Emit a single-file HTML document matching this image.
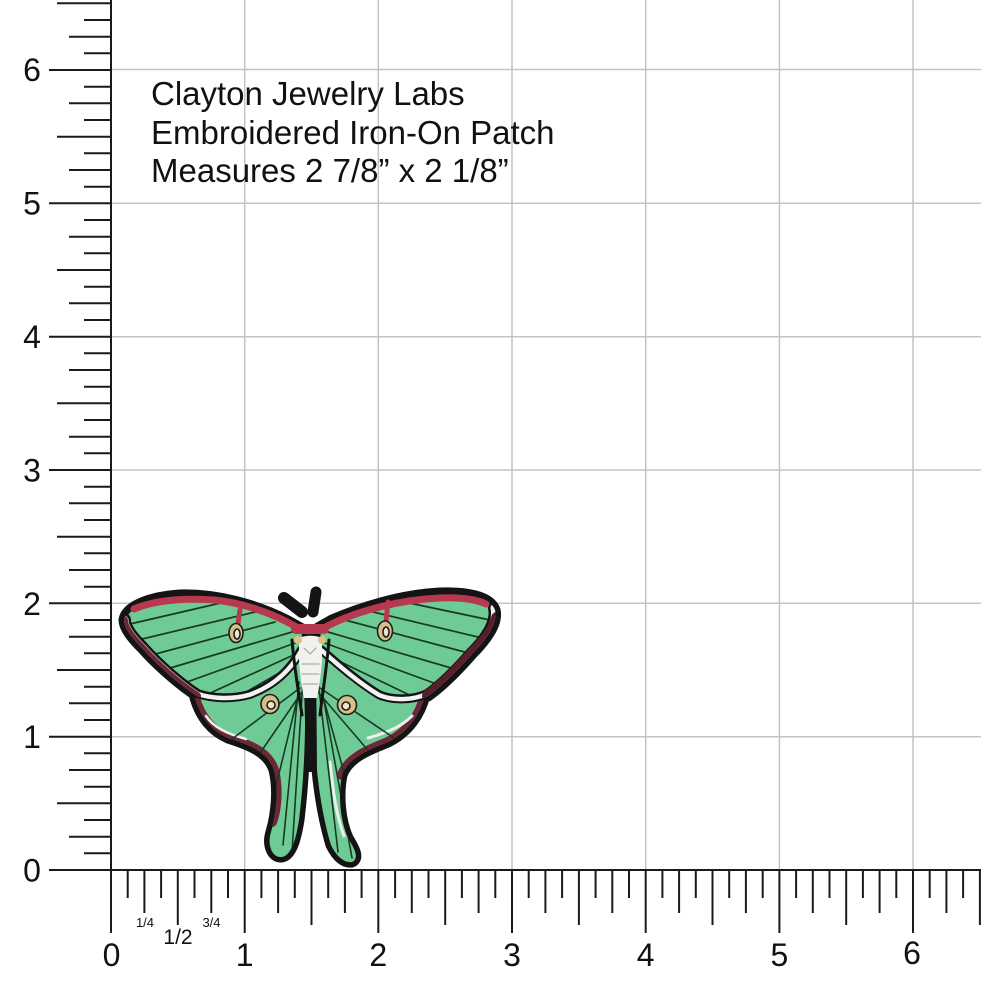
<!DOCTYPE html>
<html><head><meta charset="utf-8"><style>
html,body{margin:0;padding:0;background:#fff;}
svg{display:block;}
text{font-family:"Liberation Sans",Arial,sans-serif;fill:#111;}
</style></head><body>
<svg width="981" height="1000" viewBox="0 0 981 1000" xmlns="http://www.w3.org/2000/svg">
<defs>
<clipPath id="cFL"><path d="M124,620 C126,606 150,597 180,595 C215,594 255,604 288,621 L304,630 L303,652 C292,672 275,688 250,697 C232,702 212,701 197,696 C180,685 158,666 142,648 C132,638 124,628 124,620 Z"/></clipPath>
<clipPath id="cFR"><path d="M318,628 L332,620 C360,608 400,595 440,593 C465,592 490,596 495,610 C498,622 488,638 472,654 C458,670 442,686 428,696 C412,703 392,703 378,697 C355,683 335,665 320,652 Z"/></clipPath>
<clipPath id="cHL"><path d="M195,698 C200,715 210,730 228,738 C250,745 268,752 274,770 C279,790 276,815 271,832 C267,845 272,858 282,857 C292,855 296,838 299,820 C302,795 305,760 305,720 L303,655 C290,680 265,695 240,700 C220,702 205,700 195,698 Z"/></clipPath>
<clipPath id="cHR"><path d="M425,695 C420,715 408,732 388,742 C368,750 348,758 342,775 C338,795 340,820 348,838 C354,848 360,858 352,862 C343,863 336,855 331,845 C325,825 320,800 317,770 L316,650 C340,665 380,690 425,690 Z"/></clipPath>
</defs>

<!-- grid -->
<g stroke="#c4c4c4" stroke-width="1.5" fill="none">
<path d="M244.7,0V870M378.3,0V870M512,0V870M645.7,0V870M779.4,0V870M913,0V870"/>
<path d="M111,736.7H981M111,603.3H981M111,470H981M111,336.7H981M111,203.3H981M111,69.5H981"/>
</g>

<!-- rulers -->
<g stroke="#1a1a1a" stroke-width="2" fill="none">
<path d="M111,0V933M49,870H981"/>
<path d="M84,853.3H111M69,836.7H111M84,820H111M57,803.3H111M84,786.7H111M69,770H111M84,753.3H111M49,736.7H111M84,720H111M69,703.3H111M84,686.7H111M57,670H111M84,653.3H111M69,636.7H111M84,620H111M49,603.3H111M84,586.7H111M69,570H111M84,553.3H111M57,536.7H111M84,520H111M69,503.3H111M84,486.7H111M49,470H111M84,453.3H111M69,436.7H111M84,420H111M57,403.3H111M84,386.7H111M69,370H111M84,353.3H111M49,336.7H111M84,320H111M69,303.3H111M84,286.7H111M57,270H111M84,253.3H111M69,236.7H111M84,220H111M49,203.3H111M84,186.7H111M69,170H111M84,153.3H111M57,136.7H111M84,120H111M69,103.3H111M84,86.7H111M49,70H111M84,53.3H111M69,36.7H111M84,20H111M57,3.3H111"/>
<path d="M127.7,870V898M144.4,870V913M161.1,870V898M177.8,870V925M194.5,870V898M211.3,870V913M228,870V898M244.7,870V933M261.4,870V898M278.1,870V913M294.8,870V898M311.5,870V925M328.2,870V898M344.9,870V913M361.6,870V898M378.3,870V933M395.1,870V898M411.8,870V913M428.5,870V898M445.2,870V925M461.9,870V898M478.6,870V913M495.3,870V898M512,870V933M528.7,870V898M545.4,870V913M562.1,870V898M578.9,870V925M595.6,870V898M612.3,870V913M629,870V898M645.7,870V933M662.4,870V898M679.1,870V913M695.8,870V898M712.5,870V925M729.2,870V898M745.9,870V913M762.7,870V898M779.4,870V933M796.1,870V898M812.8,870V913M829.5,870V898M846.2,870V925M862.9,870V898M879.6,870V913M896.3,870V898M913,870V933M929.7,870V898M946.4,870V913M963.1,870V898M979.9,870V925"/>
</g>

<!-- ruler labels -->
<g font-size="32" text-anchor="middle">
<text x="32" y="881.5">0</text>
<text x="32" y="748">1</text>
<text x="32" y="615">2</text>
<text x="32" y="481.5">3</text>
<text x="32" y="348">4</text>
<text x="32" y="214.5">5</text>
<text x="32" y="81">6</text>
<text x="111.5" y="966">0</text>
<text x="244.7" y="966">1</text>
<text x="378.3" y="966">2</text>
<text x="512" y="966">3</text>
<text x="645.7" y="966">4</text>
<text x="779.4" y="966">5</text>
<text x="912" y="964">6</text>
</g>
<text x="145" y="927" font-size="13" text-anchor="middle">1/4</text>
<text x="178" y="944" font-size="21" text-anchor="middle">1/2</text>
<text x="211.5" y="927" font-size="13" text-anchor="middle">3/4</text>

<!-- title text -->
<g font-size="33">
<text x="151" y="105">Clayton Jewelry Labs</text>
<text x="151" y="144">Embroidered Iron-On Patch</text>
<text x="151" y="182">Measures 2 7/8” x 2 1/8”</text>
</g>

<!-- moth -->
<g stroke-linejoin="round" stroke-linecap="round">
<!-- black silhouette -->
<g fill="#141414" stroke="#141414" stroke-width="11">
<path d="M195,698 C200,715 210,730 228,738 C250,745 268,752 274,770 C279,790 276,815 271,832 C267,845 272,858 282,857 C292,855 296,838 299,820 C302,795 305,760 305,720 L303,655 C290,680 265,695 240,700 C220,702 205,700 195,698 Z"/>
<path d="M425,695 C420,715 408,732 388,742 C368,750 348,758 342,775 C338,795 340,820 348,838 C354,848 360,858 352,862 C343,863 336,855 331,845 C325,825 320,800 317,770 L316,650 C340,665 380,690 425,690 Z"/>
<path d="M124,620 C126,606 150,597 180,595 C215,594 255,604 288,621 L304,630 L303,652 C292,672 275,688 250,697 C232,702 212,701 197,696 C180,685 158,666 142,648 C132,638 124,628 124,620 Z"/>
<path d="M318,628 L332,620 C360,608 400,595 440,593 C465,592 490,596 495,610 C498,622 488,638 472,654 C458,670 442,686 428,696 C412,703 392,703 378,697 C355,683 335,665 320,652 Z"/>
</g>
<path d="M296,630 L326,630 L324,700 L318,772 L305,772 L298,700 Z" fill="#141414"/>

<!-- hindwings -->
<path d="M195,698 C200,715 210,730 228,738 C250,745 268,752 274,770 C279,790 276,815 271,832 C267,845 272,858 282,857 C292,855 296,838 299,820 C302,795 305,760 305,720 L303,655 C290,680 265,695 240,700 C220,702 205,700 195,698 Z" fill="#6fcb95"/>
<path d="M425,695 C420,715 408,732 388,742 C368,750 348,758 342,775 C338,795 340,820 348,838 C354,848 360,858 352,862 C343,863 336,855 331,845 C325,825 320,800 317,770 L316,650 C340,665 380,690 425,690 Z" fill="#6fcb95"/>
<g clip-path="url(#cHL)" fill="none">
<path d="M195,698 C200,715 210,730 228,738 C250,745 268,752 274,770 C279,790 276,812 272,822" stroke="#6e2536" stroke-width="10"/>
<path d="M206,716 C214,728 228,734 246,739" stroke="#eeeeee" stroke-width="2.5"/>
<g stroke="#173a24" stroke-width="1.6">
<path d="M303,680 L292,852"/><path d="M299,682 L283,845"/><path d="M300,688 L228,742"/><path d="M302,692 L258,756"/><path d="M297,700 L275,790"/>
</g>
</g>
<g clip-path="url(#cHR)" fill="none">
<path d="M425,695 C420,715 408,732 388,742 C368,750 348,758 342,775" stroke="#6e2536" stroke-width="10"/>
<path d="M412,716 C400,728 385,733 368,738" stroke="#eeeeee" stroke-width="3"/>
<path d="M330,762 C333,790 336,815 344,836" stroke="#eeeeee" stroke-width="3"/>
<g stroke="#173a24" stroke-width="1.6">
<path d="M318,680 L338,852"/><path d="M322,690 L352,858"/><path d="M320,688 L400,742"/><path d="M318,692 L372,755"/><path d="M324,700 L346,780"/>
</g>
</g>

<!-- forewings -->
<path d="M124,620 C126,606 150,597 180,595 C215,594 255,604 288,621 L304,630 L303,652 C292,672 275,688 250,697 C232,702 212,701 197,696 C180,685 158,666 142,648 C132,638 124,628 124,620 Z" fill="#6fcb95" stroke="#141414" stroke-width="4"/>
<path d="M318,628 L332,620 C360,608 400,595 440,593 C465,592 490,596 495,610 C498,622 488,638 472,654 C458,670 442,686 428,696 C412,703 392,703 378,697 C355,683 335,665 320,652 Z" fill="#6fcb95" stroke="#141414" stroke-width="4"/>
<g clip-path="url(#cFL)" fill="none">
<g stroke="#173a24" stroke-width="1.7">
<path d="M225,602 L130,624"/><path d="M255,612 L138,640"/><path d="M275,622 L148,656"/><path d="M292,632 L160,671"/><path d="M298,642 L176,686"/><path d="M300,652 L195,700"/><path d="M298,662 L222,706"/><path d="M292,672 L255,700"/>
</g>
<path d="M124,620 C124,628 132,638 142,648 C158,666 180,685 197,696 C212,701 232,702 250,697 C275,688 292,672 303,652" stroke="#141414" stroke-width="14"/>
<path d="M124,620 C124,628 132,638 142,648 C158,666 180,685 197,696 C212,701 232,702 250,697 C275,688 292,672 303,652" stroke="#f2f2f2" stroke-width="9"/>
<path d="M124,620 C124,628 132,638 142,648 C158,666 180,685 197,696" stroke="#6e2536" stroke-width="8"/>
</g>
<g clip-path="url(#cFR)" fill="none">
<g stroke="#173a24" stroke-width="1.7">
<path d="M395,600 L490,620"/><path d="M365,610 L482,638"/><path d="M345,620 L472,654"/><path d="M328,632 L458,670"/><path d="M322,642 L442,686"/><path d="M320,652 L424,702"/><path d="M322,662 L396,706"/><path d="M328,672 L366,700"/>
</g>
<path d="M495,608 C498,622 488,638 472,654 C458,670 442,686 428,696 C412,703 392,703 378,697 C355,683 335,665 320,652" stroke="#141414" stroke-width="14"/>
<path d="M495,608 C498,622 488,638 472,654 C458,670 442,686 428,696 C412,703 392,703 378,697 C355,683 335,665 320,652" stroke="#f2f2f2" stroke-width="9"/>
<path d="M497,618 C494,630 486,640 472,654 C458,670 442,686 428,696" stroke="#5a1f2c" stroke-width="12"/>
</g>

<!-- red band -->
<g fill="none" stroke="#b7384f">
<path d="M134,609 C155,600 185,598 215,600 C250,604 278,616 300,629" stroke-width="7"/>
<path d="M296,629 L324,629" stroke-width="10"/>
<path d="M322,629 C350,613 395,600 440,598 C462,597 478,600 486,604" stroke-width="7"/>
<path d="M240,610 L238,624" stroke-width="5"/>
<path d="M388,602 L386,621" stroke-width="5"/>
</g>

<!-- eyespots -->
<g stroke="#1e1e1e" stroke-width="1.6">
<ellipse cx="236" cy="633" rx="7" ry="9.5" fill="#d8bf8a"/>
<ellipse cx="237" cy="634" rx="3" ry="5" fill="#efe7c9"/>
<ellipse cx="385" cy="631" rx="7.5" ry="10" fill="#d8bf8a"/>
<ellipse cx="386" cy="632" rx="3" ry="5" fill="#efe7c9"/>
<ellipse cx="270" cy="704" rx="9" ry="9.5" fill="#d8bf8a"/>
<ellipse cx="271" cy="705" rx="4" ry="4" fill="#efe7c9"/>
<ellipse cx="347" cy="705" rx="9.5" ry="9.5" fill="#d8bf8a"/>
<ellipse cx="346" cy="706" rx="4" ry="4" fill="#efe7c9"/>
</g>

<!-- body -->
<path d="M299,638 C305,635 316,635 322,638 L322,660 C321,675 319,688 317,698 L304,698 C302,688 300,675 299,660 Z" fill="#f1f1ee"/>
<g stroke="#9a9a96" stroke-width="1" fill="none">
<path d="M302,664 H319M302,674 H319M303,684 H318"/>
<path d="M304,648 L310,654 L316,648"/>
</g>
<path d="M292,640 C294,665 298,690 302,715" stroke="#141414" stroke-width="3" fill="none"/>
<path d="M329,640 C327,665 323,690 320,715" stroke="#141414" stroke-width="3" fill="none"/>
<ellipse cx="298" cy="640" rx="4" ry="4" fill="#e0c07e"/>
<ellipse cx="322" cy="640" rx="4" ry="4" fill="#e0c07e"/>

<!-- antennae -->
<path d="M284,598 L302,612" stroke="#141414" stroke-width="12" fill="none"/>
<path d="M316,592 L313,612" stroke="#141414" stroke-width="11" fill="none"/>
</g>
</svg>
</body></html>
